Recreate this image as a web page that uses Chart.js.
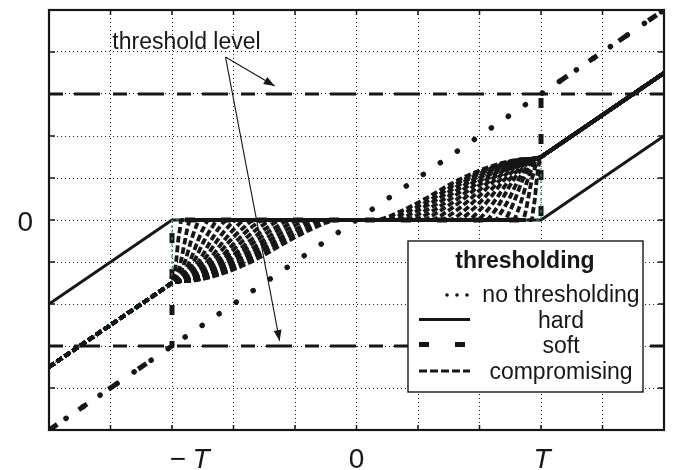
<!DOCTYPE html>
<html>
<head>
<meta charset="utf-8">
<script src="https://cdn.jsdelivr.net/npm/chart.js@4.4.0/dist/chart.umd.min.js"></script>
<style>
  html, body { margin: 0; padding: 0; background: #fff; }
  #wrap { width: 673px; height: 470px; }
</style>
</head>
<body>
<div id="wrap"><canvas id="chart" width="673" height="470"></canvas></div>
<script>
// axes run from -5 to 5, grid every T/3, threshold T = 3
const xRange = [-5, 5];
const yRange = [-5, 5];
const xTickValues = [-3, 0, 3];
const yTickValues = [0];

// no thresholding (y = x)
const noThreshX = [-5, 5];
const noThreshY = [-5, 5];
// "hard" (solid)
const hardX = [-5, -3, 3, 5];
const hardY = [-2, 0, 0, 2];
// "soft" (thick dashes)
const softX = [-5, -3, -3, 3, 3, 5];
const softY = [-5, -3, 0, 0, 3, 5];
// threshold level lines
const levelX = [-5, 5];
const levelUpY = [3, 3];
const levelDownY = [-3, -3];
// thin green limit curve of the compromising family
const limitX = [-5, -3, -3, 3, 3, 5];
const limitY = [-3.5, -1.5, 0, 0, 1.5, 3.5];

// compromising family: right half (0..T) of each curve, left half is the mirror
const compY = [0, 0.2, 0.5, 0.95, 1.28, 1.43, 1.5];
const compX = [
  [0.30, 0.71, 1.11, 1.65, 2.19, 2.60, 3.0],
  [0.45, 0.83, 1.22, 1.73, 2.24, 2.62, 3.0],
  [0.60, 0.96, 1.32, 1.80, 2.28, 2.64, 3.0],
  [0.75, 1.09, 1.43, 1.88, 2.33, 2.66, 3.0],
  [0.90, 1.22, 1.53, 1.95, 2.37, 2.69, 3.0],
  [1.05, 1.34, 1.64, 2.03, 2.42, 2.71, 3.0],
  [1.20, 1.47, 1.74, 2.10, 2.46, 2.73, 3.0],
  [1.35, 1.60, 1.85, 2.18, 2.51, 2.75, 3.0],
  [1.50, 1.73, 1.95, 2.25, 2.55, 2.78, 3.0],
  [1.65, 1.85, 2.06, 2.33, 2.60, 2.80, 3.0],
  [1.80, 1.98, 2.16, 2.40, 2.64, 2.82, 3.0],
  [1.95, 2.11, 2.27, 2.48, 2.69, 2.84, 3.0],
  [2.10, 2.24, 2.37, 2.55, 2.73, 2.87, 3.0],
  [2.25, 2.36, 2.48, 2.63, 2.78, 2.89, 3.0],
  [2.40, 2.49, 2.58, 2.70, 2.82, 2.91, 3.0],
  [2.55, 2.62, 2.69, 2.78, 2.87, 2.93, 3.0],
  [2.70, 2.75, 2.79, 2.85, 2.91, 2.96, 3.0],
  [2.85, 2.87, 2.90, 2.93, 2.96, 2.98, 3.0]
];
const compTailX = [3.1, 5];
const compTailY = [1.6, 3.5];

const ink = '#161616';
const font = '"Liberation Sans", Arial, sans-serif';

function toPoints(xs, ys) {
  return xs.map((v, i) => ({ x: v, y: ys[i] }));
}
function mirror(points) {
  return points.map(p => ({ x: -p.x, y: -p.y })).reverse();
}

const datasets = [];

// compromising curves (first = drawn on top)
compX.forEach(xs => {
  const right = toPoints(xs, compY).concat(toPoints(compTailX, compTailY));
  datasets.push({
    data: mirror(right).concat(right),
    borderColor: ink, borderWidth: 3.8, borderDash: [6.5, 3],
    cubicInterpolationMode: 'monotone'
  });
});

// thin green limit curve, under the compromising ones
datasets.push({
  data: toPoints(limitX, limitY),
  borderColor: '#2e9e62', borderWidth: 1.2, borderDash: [3, 3], tension: 0
});

datasets.push({
  data: toPoints(softX, softY),
  borderColor: ink, borderWidth: 5, borderDash: [10, 26], tension: 0
});
datasets.push({
  data: toPoints(hardX, hardY),
  borderColor: ink, borderWidth: 3, tension: 0
});
datasets.push({
  data: toPoints(noThreshX, noThreshY),
  borderColor: ink, borderWidth: 5.5, borderDash: [0.1, 20.5], borderCapStyle: 'round', tension: 0
});
datasets.push({
  data: toPoints(levelX, levelUpY),
  borderColor: ink, borderWidth: 2.8, borderDash: [14, 11, 26, 13], tension: 0
});
datasets.push({
  data: toPoints(levelX, levelDownY),
  borderColor: ink, borderWidth: 2.8, borderDash: [14, 11, 26, 13], tension: 0
});

function seg(ctx, x1, y1, x2, y2) {
  ctx.beginPath(); ctx.moveTo(x1, y1); ctx.lineTo(x2, y2); ctx.stroke();
}
function arrow(ctx, x1, y1, x2, y2) {
  seg(ctx, x1, y1, x2, y2);
  const ang = Math.atan2(y2 - y1, x2 - x1);
  const len = 11, half = 4;
  ctx.beginPath();
  ctx.moveTo(x2, y2);
  ctx.lineTo(x2 - len * Math.cos(ang) + half * Math.sin(ang), y2 - len * Math.sin(ang) - half * Math.cos(ang));
  ctx.lineTo(x2 - len * Math.cos(ang) - half * Math.sin(ang), y2 - len * Math.sin(ang) + half * Math.cos(ang));
  ctx.closePath();
  ctx.fill();
}

// annotation: label and arrow ends in data units
const noteText = 'threshold level';
const notePos = [-3.97, 4.07];
const arrowFrom = [-2.13, 3.88];
const arrowTo = [[-1.33, 3.19], [-1.25, -2.88]];

const decorations = {
  id: 'decorations',
  afterDraw(chart) {
    const { ctx, chartArea: a, scales: { x, y } } = chart;
    ctx.save();
    ctx.strokeStyle = ink;
    ctx.fillStyle = ink;
    ctx.setLineDash([]);

    // inward ticks
    ctx.lineWidth = 1.5;
    for (let v = xRange[0] + 1; v < xRange[1]; v++) {
      const px = x.getPixelForValue(v);
      seg(ctx, px, a.top, px, a.top + 5);
      seg(ctx, px, a.bottom, px, a.bottom - 5);
    }
    for (let v = yRange[0] + 1; v < yRange[1]; v++) {
      const py = y.getPixelForValue(v);
      seg(ctx, a.left, py, a.left + 6, py);
      seg(ctx, a.right, py, a.right - 6, py);
    }

    // frame
    ctx.lineWidth = 2.2;
    ctx.strokeRect(a.left, a.top, a.right - a.left, a.bottom - a.top);

    // annotation
    ctx.font = '23px ' + font;
    ctx.textAlign = 'left';
    ctx.textBaseline = 'alphabetic';
    ctx.fillText(noteText, x.getPixelForValue(notePos[0]), y.getPixelForValue(notePos[1]));
    ctx.lineWidth = 1.1;
    const fx = x.getPixelForValue(arrowFrom[0]), fy = y.getPixelForValue(arrowFrom[1]);
    arrowTo.forEach(p => arrow(ctx, fx, fy, x.getPixelForValue(p[0]), y.getPixelForValue(p[1])));

    // tick labels
    const base = a.bottom + 38;
    ctx.textAlign = 'center';
    xTickValues.forEach(v => {
      const px = x.getPixelForValue(v);
      if (v < 0) {
        ctx.font = '28px ' + font;
        ctx.fillText('\u2212', px + 6, base);
        ctx.font = 'italic 28px ' + font;
        ctx.fillText('T', px + 29, base);
      } else if (v > 0) {
        ctx.font = 'italic 28px ' + font;
        ctx.fillText('T', px + 1, base);
      } else {
        ctx.font = '28px ' + font;
        ctx.fillText('0', px, base);
      }
    });
    ctx.font = '28px ' + font;
    ctx.textAlign = 'right';
    yTickValues.forEach(v => {
      ctx.fillText('0', a.left - 16, y.getPixelForValue(v) + 11);
    });

    // legend box
    const lx = 408, ly = 241, lw = 235, lh = 151;
    ctx.fillStyle = '#fff';
    ctx.fillRect(lx, ly, lw, lh);
    ctx.lineWidth = 1.4;
    ctx.strokeRect(lx, ly, lw, lh);
    ctx.fillStyle = ink;
    ctx.textAlign = 'center';
    ctx.font = 'bold 23px ' + font;
    ctx.fillText('thresholding', lx + 117, ly + 27);
    ctx.font = '23px ' + font;
    const labels = ['no thresholding', 'hard', 'soft', 'compromising'];
    const rowBase = [302, 328, 353, 379];
    labels.forEach((t, i) => ctx.fillText(t, 561, rowBase[i]));
    // samples
    [447, 457, 467].forEach(dx => {
      ctx.beginPath(); ctx.arc(dx, 295, 1.8, 0, Math.PI * 2); ctx.fill();
    });
    ctx.lineWidth = 3;
    seg(ctx, 419, 319.5, 470, 319.5);
    ctx.lineWidth = 5;
    seg(ctx, 419, 344.5, 429, 344.5);
    seg(ctx, 455, 344.5, 465, 344.5);
    ctx.lineWidth = 3;
    ctx.setLineDash([8, 3]);
    seg(ctx, 419, 371, 470, 371);
    ctx.restore();
  }
};

new Chart(document.getElementById('chart'), {
  type: 'line',
  data: { datasets: datasets },
  options: {
    responsive: false,
    animation: false,
    devicePixelRatio: 1,
    layout: { padding: { left: 49, right: 9, top: 10, bottom: 40 } },
    elements: { point: { radius: 0 }, line: { fill: false } },
    plugins: { legend: { display: false }, tooltip: { enabled: false } },
    scales: {
      x: {
        type: 'linear', min: xRange[0], max: xRange[1],
        ticks: { display: false, stepSize: 1 },
        grid: { color: '#222', lineWidth: 1, drawTicks: false },
        border: { display: false, dash: [1, 3] }
      },
      y: {
        type: 'linear', min: yRange[0], max: yRange[1],
        ticks: { display: false, stepSize: 1 },
        grid: { color: '#222', lineWidth: 1, drawTicks: false },
        border: { display: false, dash: [1, 3] }
      }
    }
  },
  plugins: [decorations]
});
</script>
</body>
</html>
